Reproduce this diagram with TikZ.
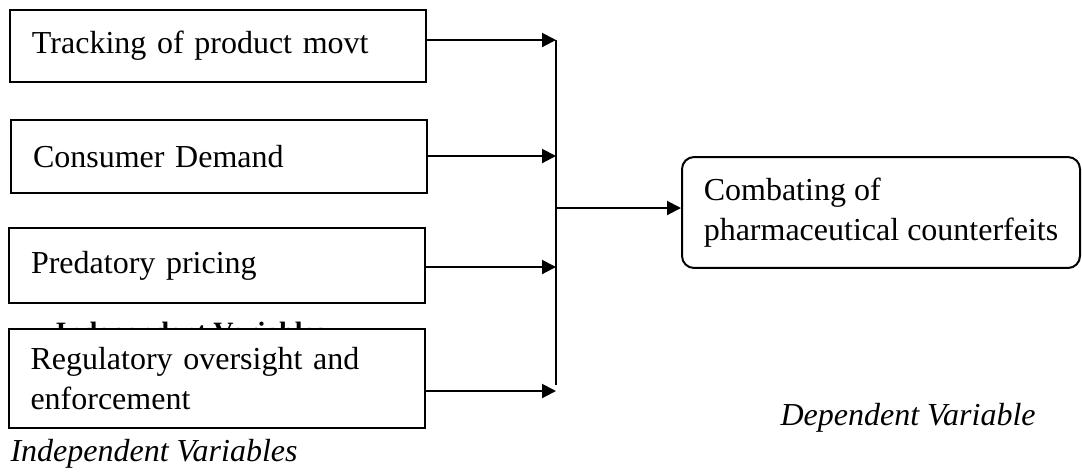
\documentclass[tikz,border=0pt]{standalone}
\usepackage{fontspec}
\setmainfont{Liberation Serif}
\usetikzlibrary{arrows.meta, positioning}
\tikzstyle{ivar}  = [rectangle, draw=black, fill=white, line width=0.75pt, minimum width=156pt,
                     text width=139.5pt, inner xsep=8.25pt, align=left,
                     font=\fontsize{12}{15}\selectfont]
\tikzstyle{dvar}  = [rectangle, rounded corners=4.5pt, draw=black, line width=0.75pt,
                     minimum width=149.25pt, minimum height=41.6pt,
                     align=left, font=\fontsize{12}{15}\selectfont]
\tikzstyle{label} = [anchor=base west, inner sep=0pt, font=\itshape\fontsize{12}{15}\selectfont]
\tikzstyle{arrow} = [line width=0.75pt, -{Triangle[length=5.25pt, width=5.25pt]}]

\begin{document}
\begin{tikzpicture}[x=0.375pt, y=-0.375pt]
  \useasboundingbox (0,0) rectangle (1082,474);

  % Heading left behind the last box
  \node (title) [anchor=base west, inner sep=0pt, font=\bfseries\fontsize{10.5}{12}\selectfont] at (55,341) {Independent Variables};

  % Independent variables
  \node (v1) [ivar, minimum height=27pt]   at (218,46)    {Tracking of product movt};
  \node (v2) [ivar, minimum height=27.4pt] at (219,156.5) {Consumer Demand};
  \node (v3) [ivar, minimum height=28.1pt] at (217,265.5) {Predatory pricing};
  \node (v4) [ivar, minimum height=37.1pt] at (216.5,378.5) {Regulatory oversight and\\enforcement};

  % Dependent variable
  \node (dv) [dvar] at (881,212.5) {Combating of\\pharmaceutical counterfeits};

  % Captions
  \node (indep) [label] at (10,461)  {Independent Variables};
  \node (dep)   [label] at (780,425) {Dependent Variable};

  % Points on the collecting line
  \coordinate (b1) at (556,40);
  \coordinate (b2) at (556,156);
  \coordinate (b3) at (556,267);
  \coordinate (b4) at (556,391);
  \coordinate (bend) at (556,385);
  \coordinate (bmid) at (556,208);

  % Variables -> collecting line
  \draw[arrow] (v1.east |- b1) -- (b1);
  \draw[arrow] (v2.east |- b2) -- (b2);
  \draw[arrow] (v3.east |- b3) -- (b3);
  \draw[arrow] (v4.east |- b4) -- (b4);
  % collecting line
  \draw[line width=0.75pt] (b1) -- (bend);
  % collecting line -> dependent variable
  \draw[arrow] (bmid) -- (bmid -| dv.west);

\end{tikzpicture}
\end{document}
